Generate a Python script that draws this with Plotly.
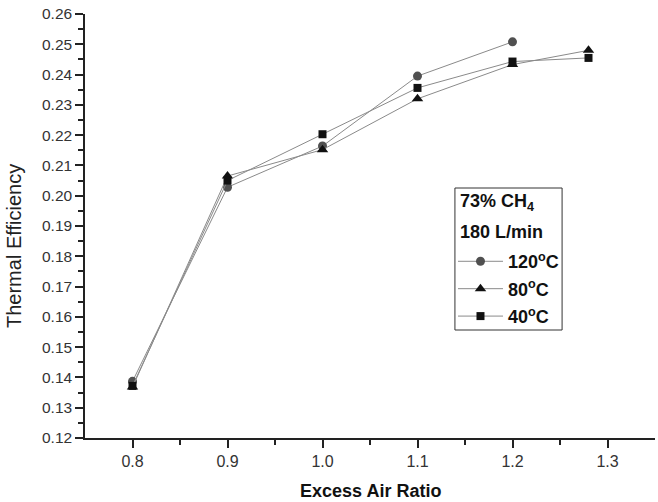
import plotly.graph_objects as go

x_120 = [0.8, 0.9, 1.0, 1.1, 1.2]
y_120 = [0.1387, 0.2028, 0.2164, 0.2395, 0.2508]
x_80 = [0.8, 0.9, 1.0, 1.1, 1.2, 1.28]
y_80 = [0.1368, 0.2065, 0.2152, 0.2320, 0.2433, 0.2480]
x_40 = [0.8, 0.9, 1.0, 1.1, 1.2, 1.28]
y_40 = [0.1372, 0.2050, 0.2203, 0.2356, 0.2443, 0.2455]
names = ["<b>120<sup>o</sup>C</b>", "<b>80<sup>o</sup>C</b>", "<b>40<sup>o</sup>C</b>"]
legend_title_lines = ["<b>73% CH<sub>4</sub></b>", "<b>180 L/min</b>"]

FONT = "Liberation Sans, Arial, sans-serif"

fig = go.Figure()
specs = [
    (x_120, y_120, "circle", 9, "#505050"),
    (x_80, y_80, "triangle-up", 10, "#111111"),
    (x_40, y_40, "square", 8, "#111111"),
]
for i, (xs, ys, sym, sz, col) in enumerate(specs):
    fig.add_trace(go.Scatter(x=xs, y=ys, name=names[i], legendgroup=f"g{i}", mode="lines+markers",
                             line=dict(color="#8a8a8a", width=1),
                             marker=dict(symbol=sym, size=sz, color=col)))

# legend box and its title lines
fig.add_shape(type="rect", xref="paper", yref="paper", x0=0.649, x1=0.837, y0=0.2547, y1=0.5896,
              line=dict(color="#333", width=1), fillcolor="rgba(0,0,0,0)", layer="above")
for txt, yy in zip(legend_title_lines, [0.5566, 0.4858]):
    fig.add_annotation(text=txt, xref="paper", yref="paper", x=0.6544, y=yy, xanchor="left",
                       yanchor="middle", showarrow=False, font=dict(size=18, family=FONT, color="#111"))

# axis titles
fig.add_annotation(text="<b>Excess Air Ratio</b>", xref="paper", yref="paper", x=0.5, y=(438 - 491) / 424,
                   xanchor="center", yanchor="middle", showarrow=False, font=dict(size=18, family=FONT, color="#111"))
fig.add_annotation(text="Thermal Efficiency", xref="paper", yref="paper", x=(14 - 85) / 570, y=(438 - 246) / 424,
                   xanchor="center", yanchor="middle", textangle=-90, showarrow=False,
                   font=dict(size=20, family=FONT, color="#222"))

fig.update_layout(
    width=658, height=502,
    margin=dict(l=85, r=3, t=14, b=64),
    paper_bgcolor="white", plot_bgcolor="white",
    font=dict(family=FONT, size=15, color="#222"),
    legend=dict(
        x=0.6456, y=0.4597, xanchor="left", yanchor="top",
        borderwidth=0, bgcolor="rgba(0,0,0,0)",
        font=dict(size=18, family=FONT, color="#111"),
        tracegroupgap=1, itemwidth=45,
    ),
    xaxis=dict(
        range=[0.75, 1.35], tickvals=[0.8, 0.9, 1.0, 1.1, 1.2, 1.3],
        ticktext=["0.8", "0.9", "1.0", "1.1", "1.2", "1.3"],
        showline=True, linecolor="#222", linewidth=1.5, showgrid=False, zeroline=False,
        ticks="outside", ticklen=8, tickwidth=1.5, tickcolor="#222",
        minor=dict(tickvals=[0.85, 0.95, 1.05, 1.15, 1.25], ticks="outside", ticklen=5, tickcolor="#222", tickwidth=1.5),
        tickfont=dict(size=16, color="#333"), automargin=False,
    ),
    yaxis=dict(
        range=[0.12, 0.26], dtick=0.01, tickformat=".2f",
        showline=True, linecolor="#222", linewidth=1.5, showgrid=False, zeroline=False,
        ticks="outside", ticklen=8, tickwidth=1.5, tickcolor="#222",
        minor=dict(dtick=0.005, ticks="outside", ticklen=5, tickcolor="#222", tickwidth=1.5),
        tickfont=dict(size=15.5, color="#333"), automargin=False,
    ),
)

fig.write_html("out.html", config={"displayModeBar": False},
               post_script="document.body.style.margin='0px';")
